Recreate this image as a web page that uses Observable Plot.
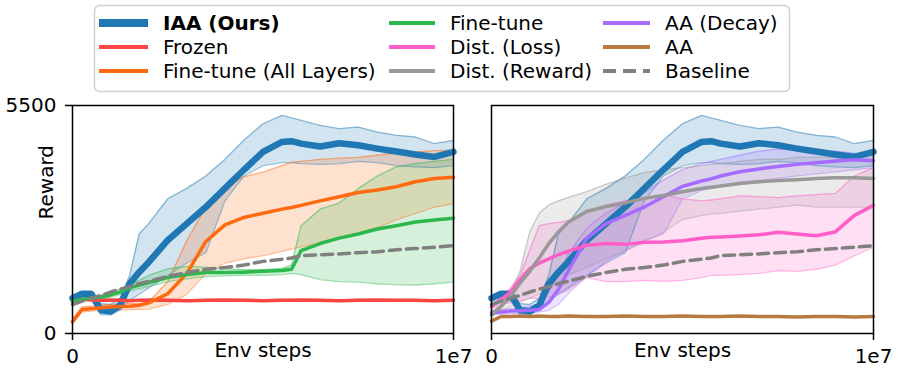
<!DOCTYPE html>
<html><head><meta charset="utf-8">
<script src="https://cdn.jsdelivr.net/npm/d3@7"></script>
<script src="https://cdn.jsdelivr.net/npm/@observablehq/plot@0.6"></script>
<style>
body{margin:0;background:#fff;font-family:"DejaVu Sans",sans-serif;}
#wrap{position:relative;width:900px;height:375px;overflow:hidden;background:#fff;}
#left{position:absolute;left:0;top:0;}
#right{position:absolute;left:460px;top:0;}
#legend{position:absolute;left:0;top:0;}
</style></head><body>
<div id="wrap"><div id="left"></div><div id="right"></div><svg id="legend" width="900" height="100"></svg></div>
<script>
// ---- data ----
const steps = [0, 250000, 500000, 750000, 1000000, 1250000, 1500000, 1750000, 2000000, 2500000, 3000000, 3500000, 4000000, 4500000, 5000000, 5500000, 5750000, 6000000, 6500000, 7000000, 7500000, 8000000, 8500000, 9000000, 9500000, 10000000];
const xTicks = [0, 10000000];
const xTickLabels = ["0", "1e7"];
const yTicks = [0, 5500];
const yDomain = [0, 5500];

const iaaMean = [850, 960, 950, 560, 530, 680, 1200, 1480, 1720, 2250, 2650, 3050, 3500, 3950, 4380, 4620, 4640, 4580, 4510, 4590, 4540, 4460, 4390, 4320, 4260, 4380];
const iaaHi   = [900, 1010, 1020, 720, 700, 850, 1400, 2400, 2650, 3250, 3500, 3800, 4200, 4660, 5060, 5260, 5200, 5140, 5020, 4940, 4980, 4860, 4780, 4740, 4580, 4660];
const iaaLo   = [800, 900, 800, 450, 450, 560, 800, 950, 1100, 1400, 1700, 1950, 3200, 3800, 4050, 4120, 4120, 4100, 4080, 4100, 4150, 4120, 4050, 4020, 4000, 4050];

const frozenMean = [760, 820, 810, 800, 810, 800, 790, 800, 810, 800, 790, 800, 810, 800, 790, 800, 800, 810, 800, 790, 800, 810, 800, 800, 790, 800];

const ftAllMean = [280, 580, 600, 620, 640, 650, 660, 680, 740, 960, 1450, 2220, 2620, 2800, 2900, 3000, 3040, 3090, 3200, 3300, 3400, 3460, 3540, 3660, 3740, 3770];
const ftAllHi   = [350, 640, 660, 680, 700, 710, 720, 720, 760, 1250, 2240, 3050, 3500, 3780, 3890, 4050, 4130, 4150, 4200, 4230, 4250, 4300, 4350, 4380, 4410, 4420];
const ftAllLo   = [250, 520, 540, 550, 560, 570, 575, 580, 590, 700, 950, 1450, 1700, 1800, 1880, 1980, 2040, 2090, 2200, 2300, 2430, 2560, 2740, 2900, 3050, 3130];

const ftMean = [780, 820, 850, 880, 930, 1000, 1100, 1170, 1230, 1350, 1420, 1470, 1470, 1480, 1500, 1520, 1550, 2000, 2170, 2300, 2400, 2520, 2600, 2690, 2740, 2780];
const ftHi   = [810, 860, 890, 930, 990, 1070, 1180, 1280, 1400, 1560, 1620, 1600, 1560, 1540, 1540, 1570, 1650, 2600, 3000, 3150, 3500, 3800, 4020, 4100, 4150, 4200];
const ftLo   = [750, 790, 810, 840, 880, 940, 1020, 1080, 1130, 1250, 1320, 1370, 1390, 1400, 1400, 1420, 1450, 1420, 1300, 1250, 1240, 1200, 1180, 1170, 1200, 1240];

const baseMean = [700, 780, 850, 920, 1000, 1070, 1130, 1200, 1260, 1380, 1470, 1550, 1590, 1650, 1740, 1790, 1820, 1880, 1900, 1920, 1950, 1970, 2020, 2050, 2080, 2120];

const aaDecayMean = [500, 520, 540, 550, 560, 580, 750, 1060, 1500, 2300, 2650, 2850, 3050, 3300, 3550, 3680, 3730, 3800, 3900, 3970, 4030, 4080, 4120, 4160, 4190, 4170];
const aaDecayHi   = [550, 570, 600, 620, 650, 720, 1000, 1400, 1900, 2550, 2900, 3150, 3400, 3700, 3950, 4100, 4150, 4200, 4300, 4400, 4450, 4450, 4400, 4400, 4350, 4300];
const aaDecayLo   = [450, 470, 480, 490, 500, 520, 560, 700, 950, 1400, 1750, 2000, 2250, 2400, 3250, 3450, 3500, 3550, 3650, 3700, 3750, 3800, 3850, 3900, 3950, 4000];

const aaMean = [300, 410, 410, 420, 410, 420, 410, 410, 420, 410, 410, 420, 410, 410, 420, 410, 410, 410, 420, 410, 410, 400, 410, 410, 400, 410];

const distLossMean = [650, 820, 1000, 1300, 1560, 1700, 1800, 1900, 1980, 2130, 2170, 2150, 2200, 2210, 2240, 2300, 2320, 2330, 2350, 2380, 2440, 2400, 2360, 2450, 2850, 3090];
const distLossHi   = [700, 870, 1100, 1400, 2000, 2600, 2650, 2680, 2720, 2950, 3100, 3200, 3250, 3350, 3250, 3200, 3220, 3250, 3320, 3300, 3280, 3320, 3350, 3380, 3800, 4000];
const distLossLo   = [600, 700, 750, 800, 850, 850, 880, 950, 1050, 1350, 1250, 1250, 1280, 1260, 1280, 1350, 1400, 1400, 1420, 1450, 1520, 1500, 1550, 1650, 1880, 2080];

const distRewardMean = [450, 650, 900, 1220, 1500, 1820, 2170, 2450, 2680, 2950, 3060, 3150, 3260, 3330, 3420, 3500, 3530, 3560, 3620, 3660, 3690, 3710, 3740, 3760, 3760, 3740];
const distRewardHi   = [500, 720, 1000, 1500, 2450, 2900, 3100, 3200, 3280, 3420, 3600, 3750, 3880, 3950, 4000, 4050, 4080, 4100, 4150, 4200, 4200, 4250, 4250, 4250, 4300, 4300];
const distRewardLo   = [420, 550, 650, 750, 850, 950, 1100, 1250, 1400, 1600, 1800, 2000, 2200, 2450, 2750, 2850, 2880, 2900, 2950, 3000, 3050, 3100, 3050, 3050, 3050, 3050];

const legendLabels = ["IAA (Ours)", "Frozen", "Fine-tune (All Layers)", "Fine-tune", "Dist. (Loss)", "Dist. (Reward)", "AA (Decay)", "AA", "Baseline"];

// ---- styles ----
const C = {
  "IAA (Ours)": "#1f77b4",
  "Frozen": "#ff4444",
  "Fine-tune (All Layers)": "#ff6a10",
  "Fine-tune": "#2db84d",
  "Dist. (Loss)": "#ff5ec8",
  "Dist. (Reward)": "#999999",
  "AA (Decay)": "#a66cff",
  "AA": "#b87a40",
  "Baseline": "#808080"
};
const W = {"IAA (Ours)": 6.5, "Baseline": 3.5};
const FONT = "DejaVu Sans";

function rows(mean, lo, hi) {
  return steps.map((s, i) => ({x: s, y: mean[i], lo: lo ? lo[i] : null, hi: hi ? hi[i] : null}));
}
function S(name, mean, lo, hi) { return {name, data: rows(mean, lo, hi), band: !!lo}; }

const leftSeries = [
  S("IAA (Ours)", iaaMean, iaaLo, iaaHi),
  S("Frozen", frozenMean),
  S("Fine-tune (All Layers)", ftAllMean, ftAllLo, ftAllHi),
  S("Fine-tune", ftMean, ftLo, ftHi),
  S("Baseline", baseMean)
];
const rightSeries = [
  S("IAA (Ours)", iaaMean, iaaLo, iaaHi),
  S("AA (Decay)", aaDecayMean, aaDecayLo, aaDecayHi),
  S("AA", aaMean),
  S("Dist. (Loss)", distLossMean, distLossLo, distLossHi),
  S("Dist. (Reward)", distRewardMean, distRewardLo, distRewardHi),
  S("Baseline", baseMean)
];

function panel(series, width, ml, mr, showY) {
  const marks = [];
  for (const s of series) if (s.band)
    marks.push(Plot.areaY(s.data, {x: "x", y1: "lo", y2: "hi", fill: C[s.name], fillOpacity: 0.2}));
  for (const s of series) if (s.band) {
    marks.push(Plot.lineY(s.data, {x: "x", y: "lo", stroke: C[s.name], strokeOpacity: 0.45, strokeWidth: 1.3}));
    marks.push(Plot.lineY(s.data, {x: "x", y: "hi", stroke: C[s.name], strokeOpacity: 0.45, strokeWidth: 1.3}));
  }
  for (const s of series)
    marks.push(Plot.lineY(s.data, {x: "x", y: "y", stroke: C[s.name], strokeWidth: W[s.name] || 3.5,
      strokeDasharray: s.name === "Baseline" ? "11,6" : null, strokeLinejoin: "round"}));
  marks.push(Plot.frame({stroke: "black", strokeWidth: 1.5}));
  marks.push(Plot.axisX({ticks: xTicks, tickFormat: (d) => xTickLabels[xTicks.indexOf(d)], tickSize: 7, tickPadding: 8, strokeWidth: 1.5, label: null}));
  marks.push(Plot.text(["Env steps"], {text: d => d, frameAnchor: "bottom", dy: 23, fontSize: 20}));
  if (showY) {
    marks.push(Plot.axisY({ticks: yTicks, tickFormat: (d) => String(d), tickSize: 7, tickPadding: 9, strokeWidth: 1.5, label: null}));
    marks.push(Plot.text(["Reward"], {text: d => d, frameAnchor: "left", rotate: -90, dx: -26, fontSize: 20}));
  }
  return Plot.plot({
    width, height: 375,
    marginTop: 105, marginBottom: 42, marginLeft: ml, marginRight: mr,
    x: {domain: [0, 10000000], axis: null},
    y: {domain: yDomain, axis: null},
    style: {fontFamily: FONT, fontSize: "20px", color: "black", background: "transparent", overflow: "visible"},
    marks
  });
}

document.getElementById("left").append(panel(leftSeries, 460, 72, 7, true));
document.getElementById("right").append(panel(rightSeries, 440, 31, 27, false));

// ---- legend ----
const lg = d3.select("#legend");
lg.append("rect").attr("x", 94.5).attr("y", 5.5).attr("width", 695).attr("height", 86).attr("rx", 5)
  .attr("fill", "white").attr("fill-opacity", 0.85).attr("stroke", "#d0d0d0").attr("stroke-width", 1.5);
const colX = [[99, 148, 163], [389, 435, 450], [603, 650, 665]];
const rowY = [23, 47, 71];
legendLabels.forEach((name, i) => {
  const c = Math.floor(i / 3), r = i % 3;
  const [x0, x1, tx] = colX[c];
  lg.append("line").attr("x1", x0).attr("x2", x1).attr("y1", rowY[r]).attr("y2", rowY[r])
    .attr("stroke", C[name]).attr("stroke-width", name === "IAA (Ours)" ? 8 : 4)
    .attr("stroke-dasharray", name === "Baseline" ? "13,7" : null);
  lg.append("text").attr("x", tx).attr("y", rowY[r]).attr("dy", "0.36em")
    .attr("font-family", FONT).attr("font-size", 20).attr("fill", "black")
    .attr("font-weight", name === "IAA (Ours)" ? "bold" : "normal").text(name);
});
</script></body></html>
